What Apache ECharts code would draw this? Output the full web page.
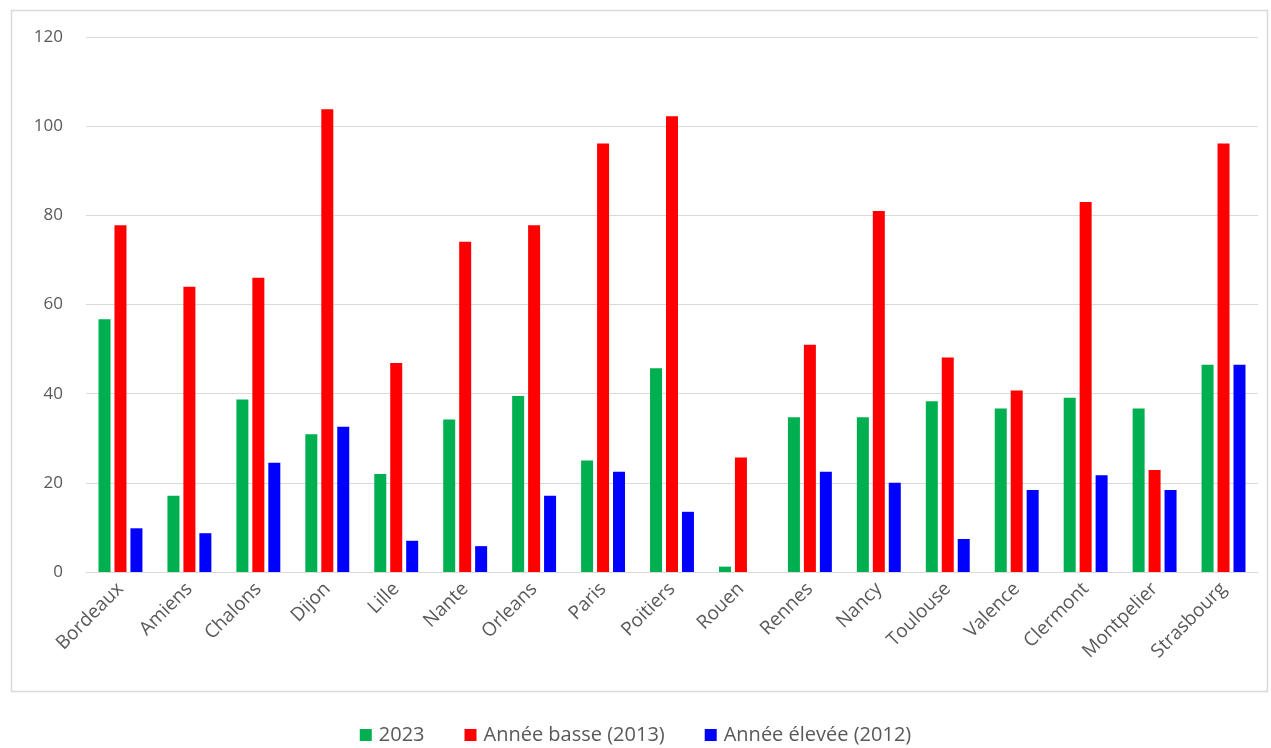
<!DOCTYPE html>
<html>
<head>
<meta charset="utf-8">
<script src="https://cdn.jsdelivr.net/npm/echarts@6/dist/echarts.min.js"></script>
<style>
  html, body { margin: 0; padding: 0; background: #fff; }
  #chart { width: 1271px; height: 748px; }
</style>
</head>
<body>
<div id="chart"></div>
<script>
// villes
const villes = ['Bordeaux', 'Amiens', 'Chalons', 'Dijon', 'Lille', 'Nante', 'Orleans', 'Paris', 'Poitiers',
  'Rouen', 'Rennes', 'Nancy', 'Toulouse', 'Valence', 'Clermont', 'Montpelier', 'Strasbourg']

// valeurs
const val2023 = [56.7, 17.1, 38.7, 30.9, 22.0, 34.2, 39.5, 25.0, 45.7, 1.2, 34.7, 34.7, 38.3, 36.7, 39.1, 36.7, 46.5]
const basse2013 = [77.8, 64.0, 66.0, 103.8, 46.9, 74.1, 77.8, 96.1, 102.2, 25.7, 51.0, 81.0, 48.1, 40.7, 83.0, 22.9, 96.1]
const elevee2012 = [9.8, 8.7, 24.5, 32.6, 7.0, 5.8, 17.1, 22.5, 13.5, 0, 22.5, 20.0, 7.4, 18.4, 21.7, 18.4, 46.5]

const yTicks = { min: 0, max: 120, interval: 20 }

const font = 'Open Sans'
const grey = '#595959'

const myChart = echarts.init(document.getElementById('chart'))

const option = {
  animation: false,
  backgroundColor: '#fff',
  textStyle: { fontFamily: font },
  graphic: [
    {
      type: 'rect',
      shape: { x: 11.5, y: 10.5, width: 1256, height: 681 },
      style: { fill: 'none', stroke: '#d9d9d9', lineWidth: 1.5 },
      silent: true
    }
  ],
  legend: {
    bottom: -2,
    left: 'center',
    itemWidth: 12,
    itemHeight: 12,
    itemGap: 40,
    icon: 'rect',
    textStyle: { color: grey, fontSize: 20, fontFamily: font, padding: [0, 0, 0, 2] },
    data: ['2023', 'Année basse (2013)', 'Année élevée (2012)']
  },
  grid: {
    left: 86,
    right: 13,
    top: 37,
    bottom: 176
  },
  xAxis: {
    type: 'category',
    data: villes,
    axisLine: { lineStyle: { color: '#d9d9d9', width: 1 } },
    axisTick: { show: false },
    axisLabel: {
      rotate: 45,
      interval: 0,
      margin: 14,
      color: grey,
      fontSize: 19,
      fontFamily: font,
      padding: [0, 0, 0, 0]
    }
  },
  yAxis: {
    type: 'value',
    min: yTicks.min,
    max: yTicks.max,
    interval: yTicks.interval,
    axisLine: { show: false },
    axisTick: { show: false },
    splitLine: { lineStyle: { color: '#d9d9d9', width: 1 } },
    axisLabel: { color: grey, fontSize: 17, margin: 23, fontFamily: font }
  },
  series: [
    {
      name: '2023',
      type: 'bar',
      data: val2023,
      barWidth: 12,
      barGap: '33%',
      itemStyle: { color: '#00b050' }
    },
    {
      name: 'Année basse (2013)',
      type: 'bar',
      data: basse2013,
      barWidth: 12,
      barGap: '33%',
      itemStyle: { color: '#ff0000' }
    },
    {
      name: 'Année élevée (2012)',
      type: 'bar',
      data: elevee2012,
      barWidth: 12,
      barGap: '33%',
      itemStyle: { color: '#0000ff' }
    }
  ]
}

myChart.setOption(option)
</script>
</body>
</html>
